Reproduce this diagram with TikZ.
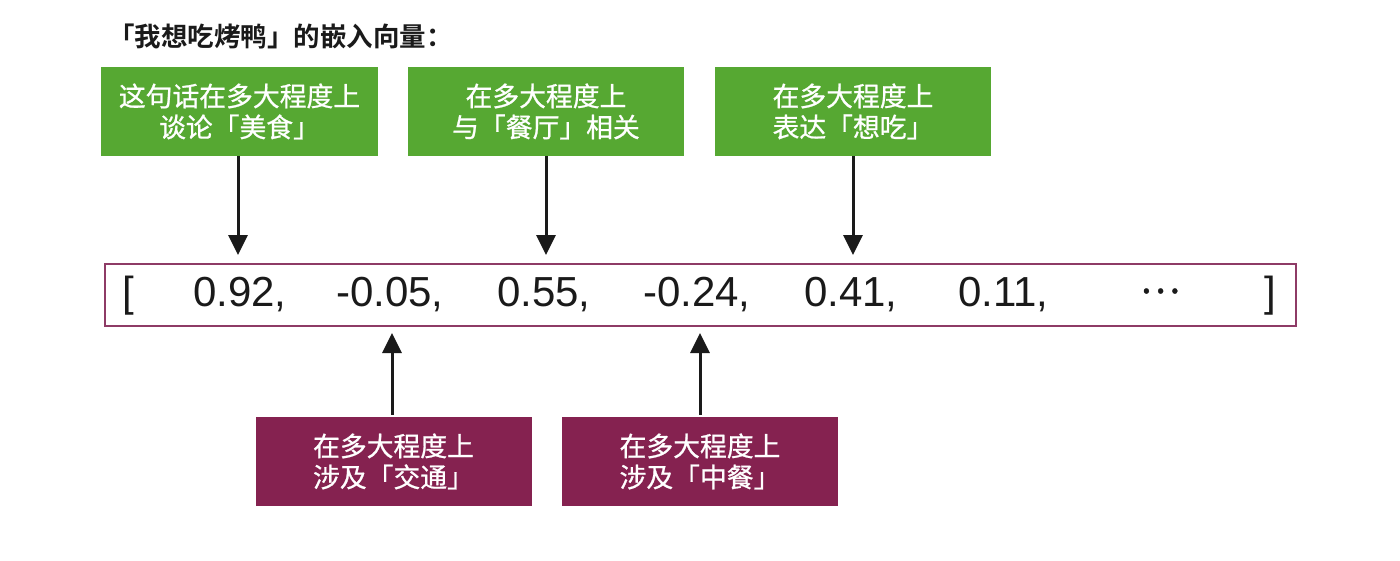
\documentclass[tikz,border=0pt]{standalone}
\usepackage{fontspec}
\setmainfont{Liberation Sans}
\newfontfamily\cjk{Noto Sans CJK SC}[FakeBold=0.8]
\newfontfamily\cjkb{Noto Sans CJK SC Bold}
\usetikzlibrary{arrows.meta}
\definecolor{boxgreen}{HTML}{56A832}
\definecolor{boxpurple}{HTML}{852250}
\definecolor{vecborder}{HTML}{8E3B66}
\definecolor{ink}{HTML}{1A1A1A}
\begin{document}
\begin{tikzpicture}[x=1pt,y=-1pt,
  gbox/.style={fill=boxgreen, draw=none, minimum width=277pt, minimum height=89pt,
    text=white, font=\cjk\fontsize{26.8}{31}\selectfont, align=center, inner sep=0pt},
  pbox/.style={gbox, fill=boxpurple, minimum width=276pt},
  num/.style={anchor=base west, inner sep=0pt, font=\fontsize{42}{48}\selectfont, text=ink},
  arr/.style={line width=3pt, draw=ink, -{Triangle[width=19pt,length=20pt]}},
]
\useasboundingbox (0,0) rectangle (1400,560);

\node[anchor=west, inner sep=0pt, text=ink, font=\cjkb\fontsize{26.5}{30}\selectfont] (title) at (108,36) {「我想吃烤鸭」的嵌入向量：};

\node[gbox] (g1) at (239.5,111.5) {这句话在多大程度上\\谈论「美食」};
\node[gbox, minimum width=276pt] (g2) at (546,111.5) {在多大程度上\\与「餐厅」相关};
\node[gbox, minimum width=276pt] (g3) at (853,111.5) {在多大程度上\\表达「想吃」};

\node[draw=vecborder, line width=2pt, minimum width=1191pt, minimum height=62pt, inner sep=0pt] (vec) at (700.5,295) {};

\node[num] (n0) at (122,306) {[};
\node[num] (n1) at (193,306) {0.92,};
\node[num] (n2) at (336,306) {-0.05,};
\node[num] (n3) at (497,306) {0.55,};
\node[num] (n4) at (643,306) {-0.24,};
\node[num] (n5) at (804,306) {0.41,};
\node[num] (n6) at (958,306) {0.11,};
\node[anchor=center, inner sep=0pt, text=ink, font=\cjk\fontsize{38}{40}\selectfont] (n7) at (1160,291) {⋯};
\node[num] (n8) at (1264,306) {]};

\node[pbox] (p1) at (393.5,461.5) {在多大程度上\\涉及「交通」};
\node[pbox] (p2) at (700,461.5) {在多大程度上\\涉及「中餐」};

\draw[arr, shorten >=8pt] ([xshift=-1.5pt]g1.south) -- ([xshift=-1.5pt]g1.south |- vec.north);
\draw[arr, shorten >=8pt] (g2.south) -- (g2.south |- vec.north);
\draw[arr, shorten >=8pt] (g3.south) -- (g3.south |- vec.north);
\draw[arr, shorten >=6pt, shorten <=2pt] ([xshift=-1.5pt]p1.north) -- ([xshift=-1.5pt]p1.north |- vec.south);
\draw[arr, shorten >=6pt, shorten <=2pt] (p2.north) -- (p2.north |- vec.south);
\end{tikzpicture}
\end{document}
